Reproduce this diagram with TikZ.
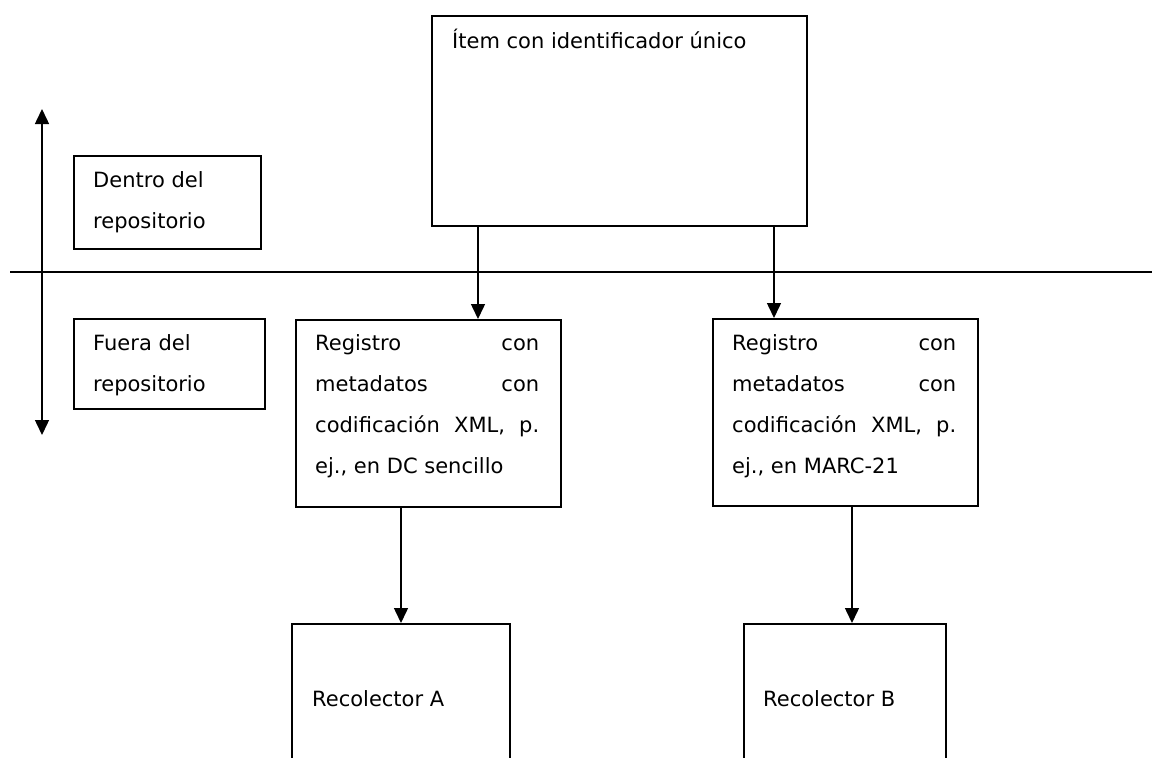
\documentclass[tikz,border=0pt]{standalone}
\usepackage{fontspec}
\setmainfont{DejaVu Sans}
\usetikzlibrary{arrows.meta}
\tikzset{
  caja/.style={draw,line width=1.6pt,inner sep=0pt,anchor=north west},
  texto/.style={inner sep=0pt,anchor=base west,align=left,font=\fontsize{21}{41}\selectfont},
  flecha/.style={line width=1.5pt,-{Triangle[width=14pt,length=15pt]}},
  flechas/.style={line width=1.5pt,{Triangle[width=14pt,length=15pt]}-{Triangle[width=14pt,length=15pt]}},
}
\newcommand{\justa}[1]{\makebox[224pt][s]{#1}}
\begin{document}
\begin{tikzpicture}[x=1pt,y=-1pt]
  \clip (0,0) rectangle (1152,758);
  %% dentro / fuera
  \coordinate (arriba) at (42,109);
  \coordinate (abajo) at (42,435);
  \coordinate (izq) at (10,272);
  \coordinate (der) at (1152,272);
  \draw[flechas] (arriba) -- (abajo);
  \draw[line width=1.5pt] (izq) -- (der);
  \node[caja,minimum width=187,minimum height=93] (dentro) at (73,155) {};
  \node[texto] (dentrotxt) at ([shift={(20,73)}]dentro.north west) {Dentro del\\repositorio};
  \node[caja,minimum width=191,minimum height=90] (fuera) at (73,318) {};
  \node[texto] (fueratxt) at ([shift={(20,73)}]fuera.north west) {Fuera del\\repositorio};
  %% item
  \node[caja,minimum width=375,minimum height=210] (item) at (431,15) {};
  \node[texto] (itemtxt) at ([shift={(21,33)}]item.north west) {Ítem con identificador único};
  %% registros
  \node[caja,minimum width=265,minimum height=187] (regA) at (295,319) {};
  \node[texto] (regAtxt) at ([shift={(20,154)}]regA.north west)
    {\justa{Registro con}\\\justa{metadatos con}\\\justa{codificación XML, p.}\\ej., en DC sencillo};
  \node[caja,minimum width=265,minimum height=187] (regB) at (712,318) {};
  \node[texto] (regBtxt) at ([shift={(20,155)}]regB.north west)
    {\justa{Registro con}\\\justa{metadatos con}\\\justa{codificación XML, p.}\\ej., en MARC-21};
  %% recolectores
  \node[caja,minimum width=218,minimum height=200] (recA) at (291,623) {};
  \node[texto] (recAtxt) at ([shift={(21,83)}]recA.north west) {Recolector A};
  \node[caja,minimum width=202,minimum height=200] (recB) at (743,623) {};
  \node[texto] (recBtxt) at ([shift={(20,83)}]recB.north west) {Recolector B};
  %% flechas
  \coordinate (xa) at (478,0);
  \coordinate (xb) at (774,0);
  \coordinate (xc) at (401,0);
  \coordinate (xd) at (852,0);
  \draw[flecha] (item.south -| xa) -- (regA.north -| xa);
  \draw[flecha] (item.south -| xb) -- (regB.north -| xb);
  \draw[flecha] (regA.south -| xc) -- (recA.north -| xc);
  \draw[flecha] (regB.south -| xd) -- (recB.north -| xd);
\end{tikzpicture}
\end{document}
